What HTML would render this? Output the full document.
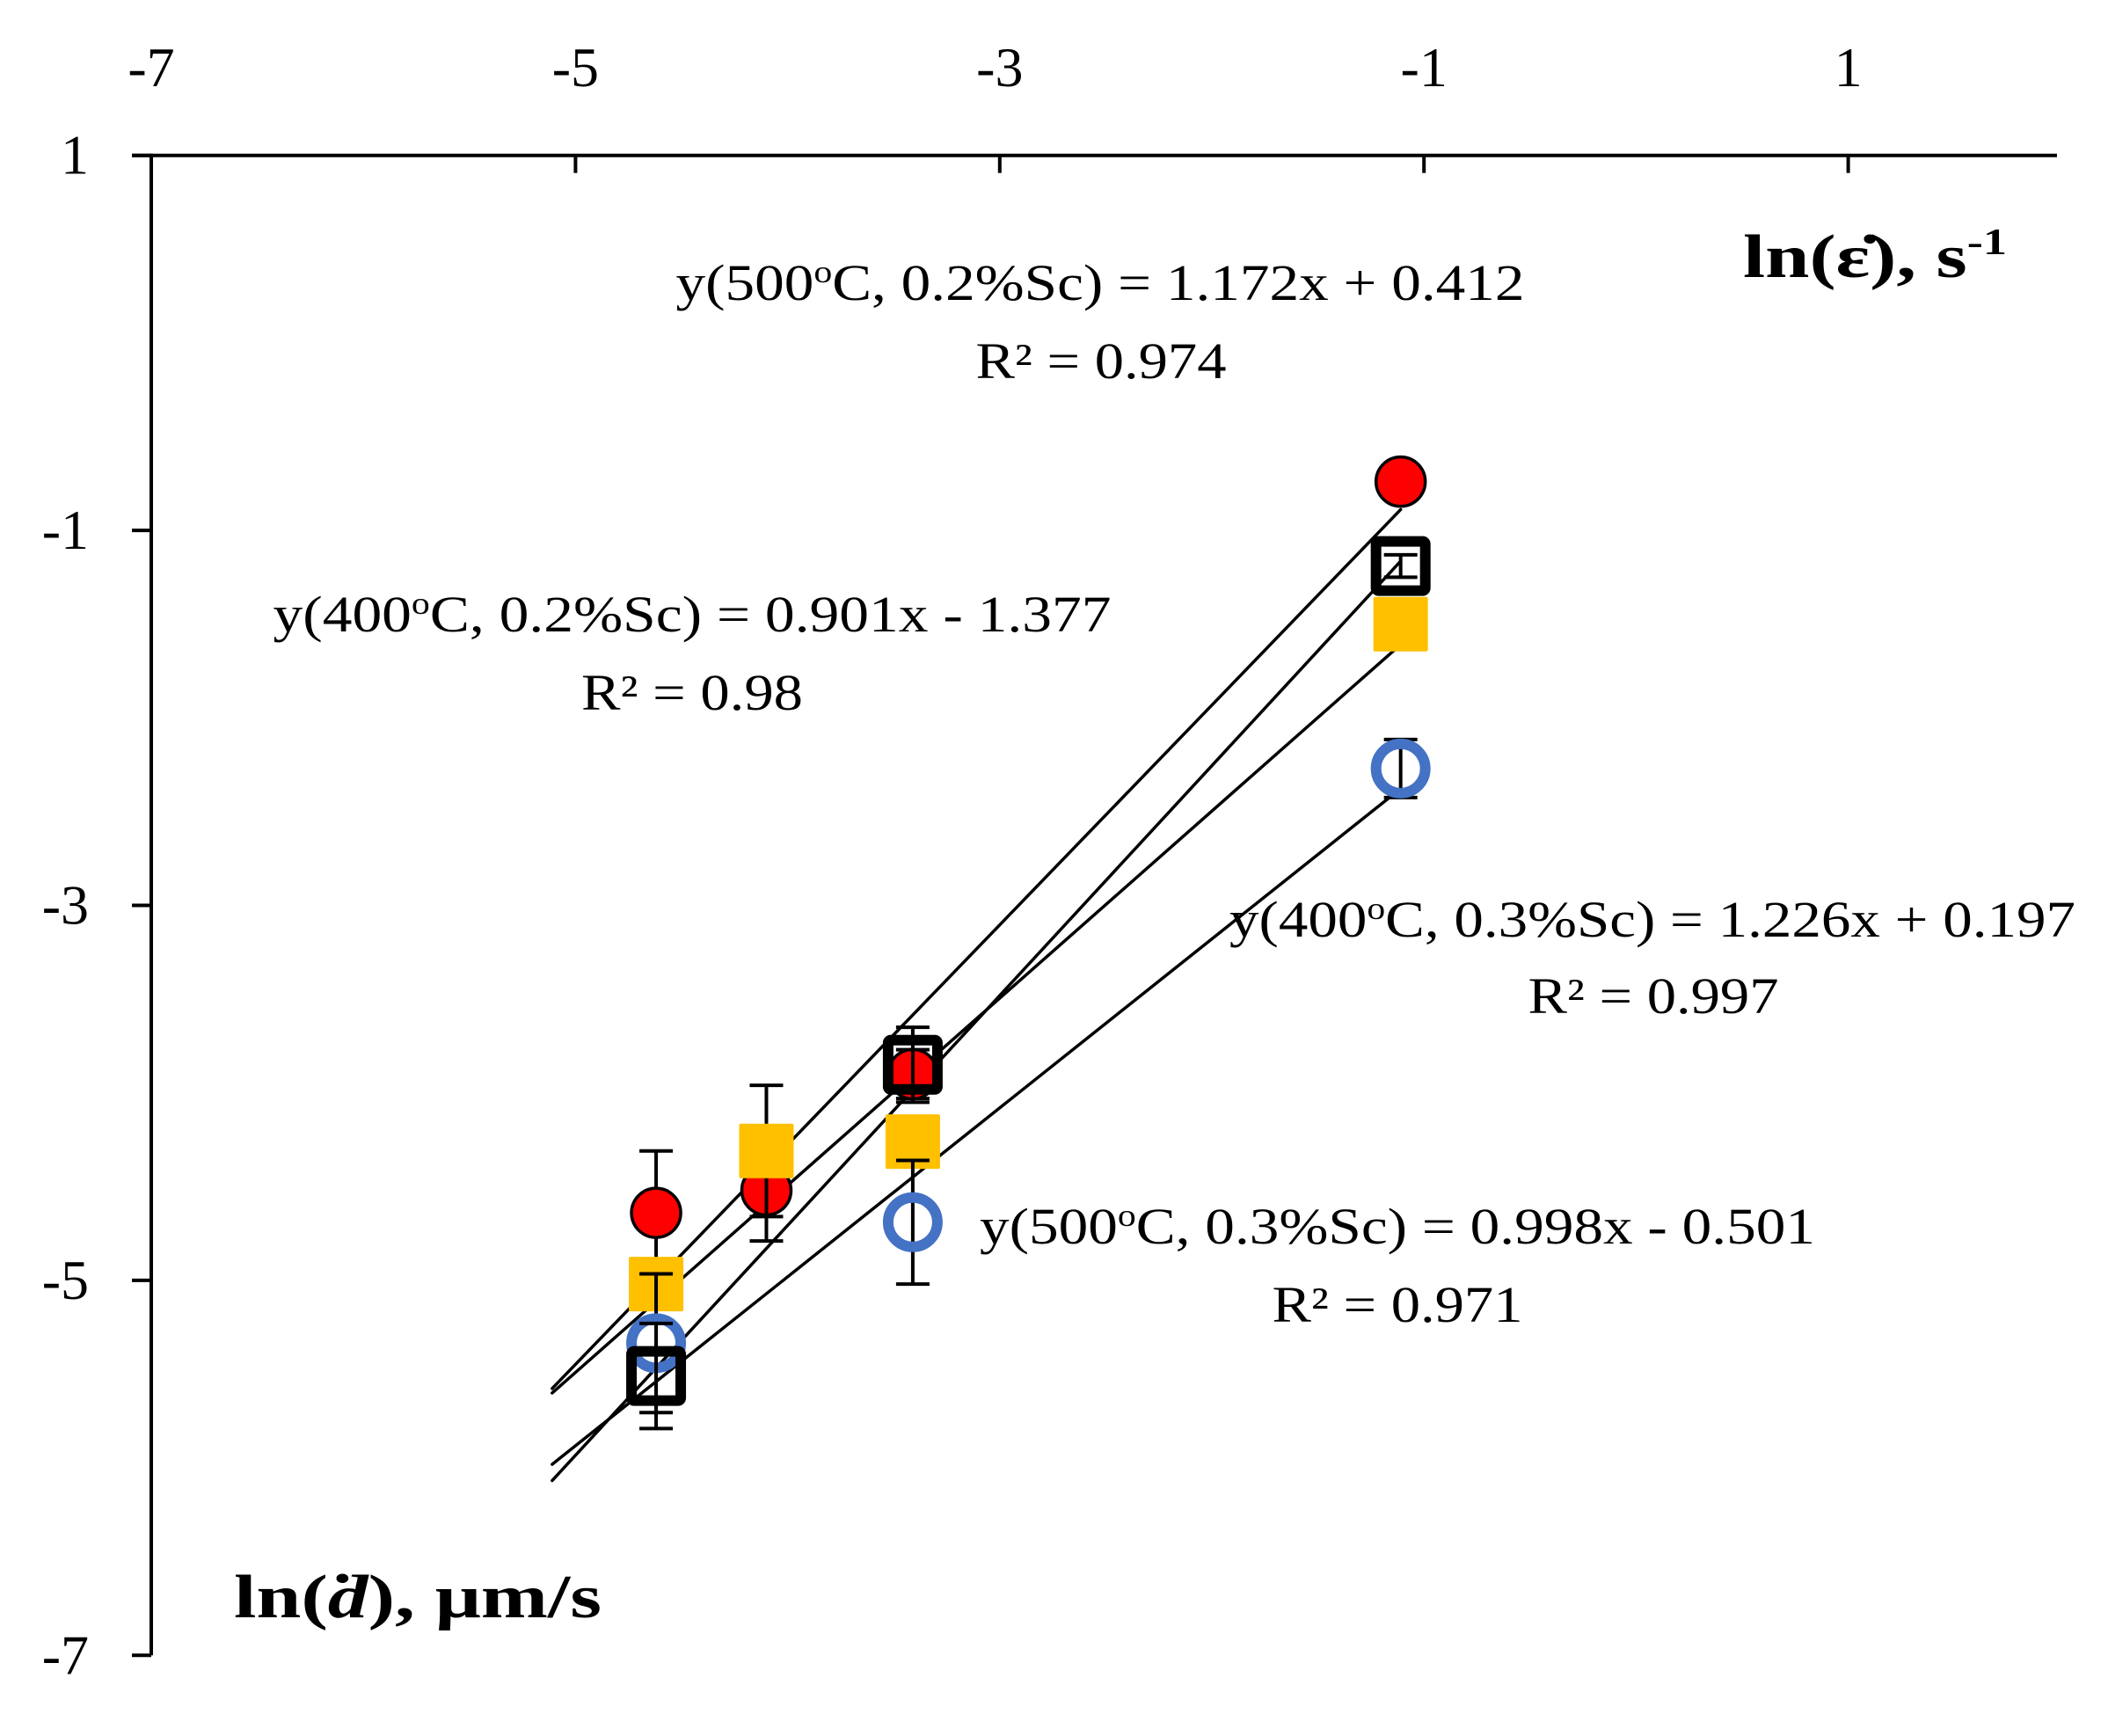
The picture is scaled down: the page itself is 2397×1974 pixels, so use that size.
<!DOCTYPE html>
<html><head><meta charset="utf-8"><style>
html,body{margin:0;padding:0;background:#fff;}
svg{display:block;}
text{font-family:"Liberation Serif",serif;fill:#000;}
</style></head><body>
<svg id="chart" width="2397" height="1974" viewBox="0 0 2397 1974" xmlns="http://www.w3.org/2000/svg">
<g id="axes"></g>
<g id="lines"></g>
<g id="marks"></g>
<g id="labels">
  <text x="1251" y="341" font-size="58" text-anchor="middle" textLength="965" lengthAdjust="spacingAndGlyphs">y(500<tspan font-size="36" dy="-20">o</tspan><tspan dy="20">C, 0.2%Sc) = 1.172x + 0.412</tspan></text>
  <text x="1252" y="430" font-size="58" text-anchor="middle" textLength="285" lengthAdjust="spacingAndGlyphs">R² = 0.974</text>
  <text x="787" y="718" font-size="58" text-anchor="middle" textLength="953" lengthAdjust="spacingAndGlyphs">y(400<tspan font-size="36" dy="-20">o</tspan><tspan dy="20">C, 0.2%Sc) = 0.901x - 1.377</tspan></text>
  <text x="787" y="807" font-size="58" text-anchor="middle" textLength="252" lengthAdjust="spacingAndGlyphs">R² = 0.98</text>
  <text x="1879" y="1065" font-size="58" text-anchor="middle" textLength="962" lengthAdjust="spacingAndGlyphs">y(400<tspan font-size="36" dy="-20">o</tspan><tspan dy="20">C, 0.3%Sc) = 1.226x + 0.197</tspan></text>
  <text x="1880" y="1152" font-size="58" text-anchor="middle" textLength="285" lengthAdjust="spacingAndGlyphs">R² = 0.997</text>
  <text x="1589" y="1414" font-size="58" text-anchor="middle" textLength="950" lengthAdjust="spacingAndGlyphs">y(500<tspan font-size="36" dy="-20">o</tspan><tspan dy="20">C, 0.3%Sc) = 0.998x - 0.501</tspan></text>
  <text x="1589" y="1503" font-size="58" text-anchor="middle" textLength="285" lengthAdjust="spacingAndGlyphs">R² = 0.971</text>
  <text x="1982" y="315" font-size="70" font-weight="bold" textLength="300" lengthAdjust="spacingAndGlyphs">ln(ε̇), s<tspan font-size="42" dy="-26">-1</tspan></text>
  <text x="266" y="1839" font-size="70" font-weight="bold" textLength="418" lengthAdjust="spacingAndGlyphs">ln(<tspan font-style="italic">ḋ</tspan>), μm/s</text>
</g>
</svg>
<script>
const xTicks = [-7, -5, -3, -1, 1];
const yTicks = [1, -1, -3, -5, -7];
const xValues = [-4.62, -4.10, -3.41, -1.11];
const redY = [-4.64, -4.52, -3.90, -0.74];
const redErr = [0.33, 0.27, 0.13, 0];
const yellowY = [-5.02, -4.31, -4.26, -1.50];
const yellowErr = [0, 0.35, 0, 0];
const blueX = [-4.62, -3.41, -1.11];
const blueY = [-5.335, -4.69, -2.27];
const blueErr = [0.37, 0.33, 0.155];
const blackX = [-4.62, -3.41, -1.11];
const blackY = [-5.51, -3.85, -1.19];
const blackErr = [0.28, 0.2, 0.06];
const slopes = [1.172, 0.998, 0.901, 1.226];
const intercepts = [0.412, -0.501, -1.377, 0.197];
const lineNames = ['trendline-500c-02sc','trendline-500c-03sc','trendline-400c-02sc','trendline-400c-03sc'];
const lineStart = -5.11, lineEnd = -1.11;

const NS = 'http://www.w3.org/2000/svg';
function sx(v){ return 172 + (v + 7) * 241.2; }
function sy(v){ return 176.7 + (1 - v) * 213.2; }
function mk(tag, attrs, parent){
  const e = document.createElementNS(NS, tag);
  for (const k in attrs) e.setAttribute(k, attrs[k]);
  parent.appendChild(e);
  return e;
}
const axes = document.getElementById('axes');
const lines = document.getElementById('lines');
const marks = document.getElementById('marks');

let el = mk('line', {x1:150, y1:sy(1), x2:2339, y2:sy(1), stroke:'#000','stroke-width':4}, axes);


el = mk('line', {x1:sx(-7), y1:sy(1)-2, x2:sx(-7), y2:sy(-7), stroke:'#000','stroke-width':4}, axes);


xTicks.forEach(t => {
  let tk = mk('line', {x1:sx(t), y1:sy(1), x2:sx(t), y2:sy(1)+20, stroke:'#000','stroke-width':4}, axes);
  
  
  let tx = mk('text', {x:sx(t), y:98, 'font-size':64, 'text-anchor':'middle'}, axes);
  tx.textContent = String(t);
  
  
});
yTicks.forEach(t => {
  let tk = mk('line', {x1:sx(-7)-22, y1:sy(t), x2:sx(-7), y2:sy(t), stroke:'#000','stroke-width':4}, axes);
  
  
  let tx = mk('text', {x:101, y:sy(t)+21, 'font-size':64, 'text-anchor':'end'}, axes);
  tx.textContent = String(t);
  
  
});

slopes.forEach((m, i) => {
  const b = intercepts[i];
  let ln = mk('line', {x1:sx(lineStart), y1:sy(m*lineStart+b), x2:sx(lineEnd), y2:sy(m*lineEnd+b), stroke:'#000','stroke-width':3.5,'stroke-linecap':'round'}, lines);
  
  
});

function errBar(x, y, e, name){
  if (!e) return;
  const g = mk('g', {stroke:'#000','stroke-width':4}, marks);
  
  
  mk('line', {x1:sx(x), y1:sy(y+e), x2:sx(x), y2:sy(y-e)}, g);
  mk('line', {x1:sx(x)-19, y1:sy(y+e), x2:sx(x)+19, y2:sy(y+e)}, g);
  mk('line', {x1:sx(x)-19, y1:sy(y-e), x2:sx(x)+19, y2:sy(y-e)}, g);
}
xValues.forEach((x, i) => {
  errBar(x, redY[i], redErr[i], 'error-bar-500c-02sc');
  let c = mk('circle', {cx:sx(x), cy:sy(redY[i]), r:28, fill:'#ff0000', stroke:'#000','stroke-width':3.5}, marks);
  
  
});
xValues.forEach((x, i) => {
  errBar(x, yellowY[i], yellowErr[i], 'error-bar-500c-03sc');
  let r = mk('rect', {x:sx(x)-31, y:sy(yellowY[i])-31, width:62, height:62, rx:2, fill:'#ffc000'}, marks);
  
  
});
blueX.forEach((x, i) => {
  errBar(x, blueY[i], blueErr[i], 'error-bar-400c-02sc');
  let c = mk('circle', {cx:sx(x), cy:sy(blueY[i]), r:28, fill:'none', stroke:'#4472c4','stroke-width':12}, marks);
  
  
});
blackX.forEach((x, i) => {
  errBar(x, blackY[i], blackErr[i], 'error-bar-400c-03sc');
  let r = mk('rect', {x:sx(x)-28, y:sy(blackY[i])-28, width:56, height:56, rx:3, fill:'none', stroke:'#000','stroke-width':12}, marks);
  
  
});
</script>
</body></html>
